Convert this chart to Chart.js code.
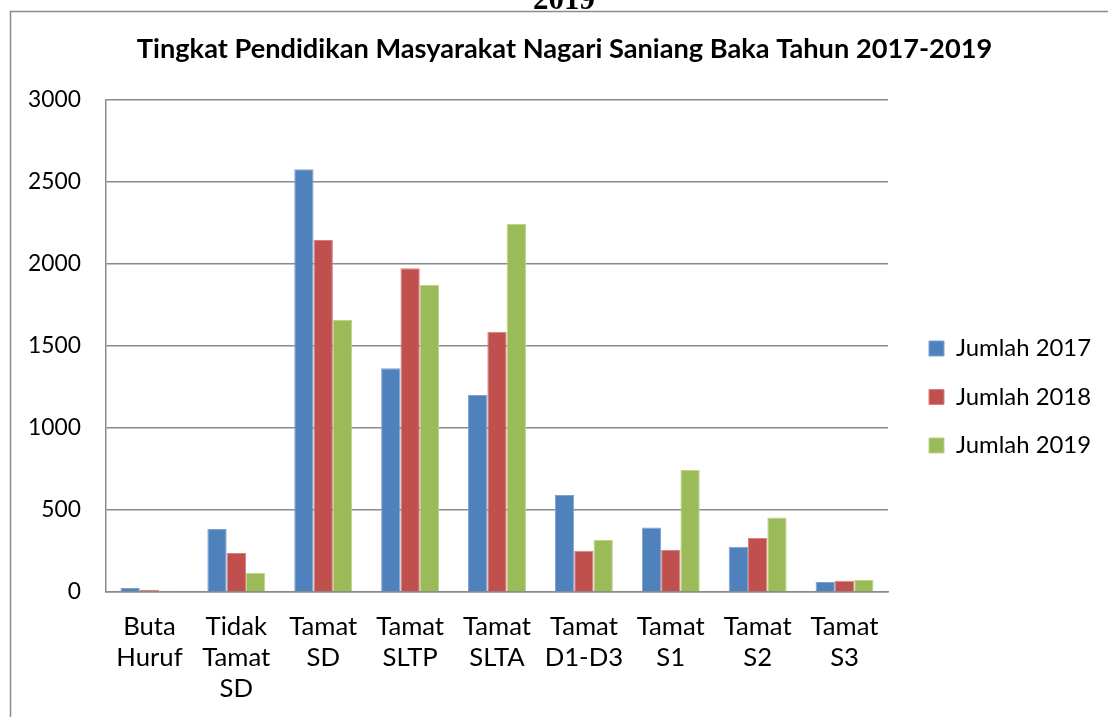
<!DOCTYPE html>
<html><head><meta charset="utf-8">
<script src="https://cdn.jsdelivr.net/npm/chart.js@4"></script>
<style>html,body{margin:0;padding:0;background:#fff}#wrap{width:1108px;height:717px;position:relative}</style>
</head><body><div id="wrap"><canvas id="c" width="1108" height="717"></canvas></div>
<script>
const categories = [["Buta","Huruf"],["Tidak","Tamat","SD"],["Tamat","SD"],["Tamat","SLTP"],["Tamat","SLTA"],["Tamat","D1-D3"],["Tamat","S1"],["Tamat","S2"],["Tamat","S3"]];
const seriesNames = ["Jumlah 2017","Jumlah 2018","Jumlah 2019"];
const jumlah2017 = [25,384,2577,1364,1201,591,394,276,61];
const jumlah2018 = [13,238,2146,1974,1587,252,256,329,69];
const jumlah2019 = [7,118,1659,1872,2244,317,744,455,73];
const yTicks = [0,500,1000,1500,2000,2500,3000];
const titleText = "Tingkat Pendidikan Masyarakat Nagari Saniang Baka Tahun 2017-2019";
const headingFragment = "2019";

const FAMILY = "Lato, 'Open Sans', sans-serif";
const mctx = document.createElement('canvas').getContext('2d');
function fitSize(text, weight, target){ mctx.font = weight + ' 100px ' + FAMILY; return Math.round(1000*target/mctx.measureText(text).width)/10; }
function textW(text, weight, size){ mctx.font = weight + ' ' + size + 'px ' + FAMILY; return mctx.measureText(text).width; }

const titleFs = fitSize(titleText, 'bold', 855);
const tickFs = fitSize('3000', 'normal', 53);
const catFs = fitSize('Tamat', 'normal', 68);
const legFs = fitSize('Jumlah 2017', 'normal', 135);

const W = 1108, H = 717;
const plotLeft = 106, plotRight = 888, plotTop = 100, plotBottom = 592;
const titleCenterX = 564.5;

const titleLH = titleFs * 1.2;
const titlePadTop = 49 - titleLH/2;
const titlePadBottom = plotTop - titlePadTop - titleLH;

const legPad = 48.5 - legFs;
const legBox = 15;
const legTextW = Math.max(...seriesNames.map(s => textW(s, 'normal', legFs)));
const legWidth = legPad + legBox + legFs/2 + legTextW + 10;
const boxLeftTarget = 929;
const padRight = W - plotRight - legWidth;
// legend title height chosen so item centres land at ~348/397/445
const legTitleH = 2*348.5 - legFs - plotTop - legPad - (plotBottom - 3*(legFs+legPad));

const colors = ['#4F81BD','#C0504D','#9BBB59'];
const edges = ['#7DA2D2','#D9807E','#BCD58B'];
const seriesData = [jumlah2017, jumlah2018, jumlah2019];

const framePlugin = {
  id: 'frame',
  afterLayout(chart){
    const t = chart.titleBlock;
    if (t) { const dx = titleCenterX - (t.left + t.right)/2; t.left += dx; t.right += dx; }
    const l = chart.legend;
    if (l) { const dx = (boxLeftTarget - legPad) - l.left; l.left += dx; l.right += dx; }
  },
  beforeDraw(chart){
    const ctx = chart.ctx;
    ctx.save();
    ctx.fillStyle = '#fff';
    ctx.fillRect(0,0,W,H);
    ctx.strokeStyle = '#8c8c8c';
    ctx.lineWidth = 1.5;
    ctx.beginPath();
    ctx.moveTo(10.5, H);
    ctx.lineTo(10.5, 11.5);
    ctx.lineTo(W, 11.5);
    ctx.stroke();
    ctx.fillStyle = '#000';
    ctx.font = "bold 31px 'Liberation Serif', serif";
    ctx.textAlign = 'center';
    ctx.textBaseline = 'alphabetic';
    ctx.fillText(headingFragment, 564, 9);
    ctx.restore();
  }
};

new Chart(document.getElementById('c'), {
  type: 'bar',
  data: {
    labels: categories,
    datasets: seriesNames.map((n,i) => ({
      label: n,
      data: seriesData[i],
      backgroundColor: colors[i],
      borderColor: edges[i],
      borderWidth: 1,
      categoryPercentage: 0.667,
      barPercentage: 1.0
    }))
  },
  options: {
    responsive: false,
    animation: false,
    devicePixelRatio: 1,
    layout: { padding: { left: 0, top: 0, bottom: 0, right: padRight } },
    plugins: {
      title: {
        display: true, text: titleText, color: '#000',
        font: { family: FAMILY, size: titleFs, weight: 'bold', lineHeight: 1.2 },
        padding: { top: titlePadTop, bottom: titlePadBottom }
      },
      legend: {
        position: 'right', align: 'center', fullSize: false,
        title: { display: true, text: ' ', font: { size: 10, lineHeight: 1.2 }, padding: { top: legTitleH - 12, bottom: 0 } },
        labels: {
          boxWidth: legBox, boxHeight: legBox, padding: legPad, color: '#000',
          font: { family: FAMILY, size: legFs }
        }
      },
      tooltip: { enabled: false }
    },
    scales: {
      x: {
        grid: { display: false, drawTicks: false },
        border: { display: true, color: '#8a8a8a', width: 1.5 },
        ticks: { color: '#000', maxRotation: 0, autoSkip: false, padding: 19,
          font: { family: FAMILY, size: catFs, lineHeight: 31/catFs } },
        afterFit(s){ s.height = H - plotBottom; }
      },
      y: {
        min: 0, max: 3000,
        afterBuildTicks(s){ s.ticks = yTicks.map(v => ({ value: v })); },
        grid: { color: '#8a8a8a', lineWidth: 1.5, drawTicks: false },
        border: { display: true, color: '#8a8a8a', width: 1.5 },
        ticks: { color: '#000', padding: 25, font: { family: FAMILY, size: tickFs },
          callback: v => String(v) },
        afterFit(s){ s.width = plotLeft; }
      }
    }
  },
  plugins: [framePlugin]
});
</script></body></html>
